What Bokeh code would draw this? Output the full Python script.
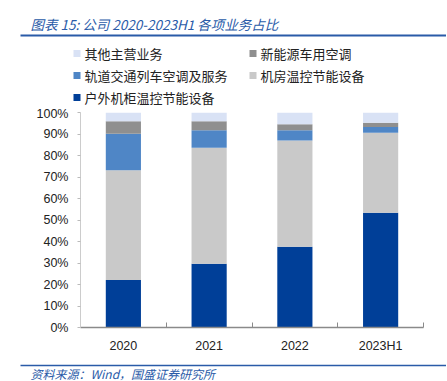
from bokeh.plotting import figure
from bokeh.layouts import column, row
from bokeh.models import Range1d, FixedTicker, NumeralTickFormatter, ColumnDataSource
from bokeh.core.properties import value
from bokeh.embed import file_html
from bokeh.resources import INLINE

categories = ["2020", "2021", "2022", "2023H1"]
series_names = ["户外机柜温控节能设备", "机房温控节能设备", "轨道交通列车空调及服务", "新能源车用空调", "其他主营业务"]
outdoor = [22.1, 29.6, 37.6, 53.4]
datacenter = [51.0, 54.0, 49.4, 37.2]
rail = [17.0, 8.2, 4.8, 2.6]
nev = [5.8, 4.1, 2.7, 2.0]
other = [4.1, 4.1, 5.5, 4.8]
colors = ["#003F98", "#C9C9C9", "#4F86C6", "#8F8F8F", "#D9E2F5"]
y_ticks = [i / 10 for i in range(11)]
title_text = "图表 15:  公司 2020-2023H1 各项业务占比"
source_text = "资料来源：Wind，国盛证券研究所"

W = 446
BLUE = "#2A5BA8"
CJK = "Noto Sans CJK SC"


def blank(height):
    f = figure(width=W, height=height, output_backend="svg", toolbar_location=None,
               x_range=Range1d(0, W), y_range=Range1d(height, 0),
               x_axis_type=None, y_axis_type=None, min_border=0)
    f.outline_line_color = None
    f.grid.grid_line_color = None
    return f


# ---------- header: title, rule, legend ----------
HH = 106
hdr = blank(HH)
hdr.text(x=[30], y=[23], text=[title_text], text_font=value(CJK), text_font_style="italic",
         text_font_size="13.5px", text_color=BLUE, text_baseline="middle")
hdr.segment(x0=[20], y0=[35], x1=[W], y1=[35], line_color=BLUE, line_width=2)

order = [4, 3, 2, 1, 0]
col_x = [73, 249]
row_y = [53, 75, 97]
lx, ly, lt, lc = [], [], [], []
for k, si in enumerate(order):
    r, c = divmod(k, 2)
    lx.append(col_x[c])
    ly.append(row_y[r])
    lt.append(series_names[si])
    lc.append(colors[si])
hdr.rect(x=[v + 3.5 for v in lx], y=ly, width=7, height=7, fill_color=lc, line_color=None)
hdr.text(x=[v + 11 for v in lx], y=ly, text=lt, text_font=value(CJK), text_font_size="13px",
         text_color="#222222", text_baseline="middle")

# ---------- main chart ----------
series = [outdoor, datacenter, rail, nev, other]
keys = ["s%d" % i for i in range(len(series))]
data = {"x": [i + 0.5 for i in range(len(categories))]}
for k, s in zip(keys, series):
    data[k] = [v / 100 for v in s]
src = ColumnDataSource(data)

MH = 250
p = figure(width=W, height=MH, output_backend="svg", toolbar_location=None,
           x_range=Range1d(0, len(categories)), y_range=Range1d(0, 1.0),
           min_border_left=80, min_border_right=W - 423, min_border_top=6, min_border_bottom=29)
p.outline_line_color = None
p.grid.grid_line_color = None

p.vbar_stack(keys, x="x", width=0.41, source=src, color=colors, line_color=None)

xa = p.xaxis[0]
xa.ticker = FixedTicker(ticks=data["x"], minor_ticks=list(range(1, len(categories) + 1)))
xa.major_label_overrides = {x: c for x, c in zip(data["x"], categories)}
xa.major_tick_in = 0
xa.major_tick_out = 0
xa.minor_tick_in = 5
xa.minor_tick_out = 0
xa.minor_tick_line_color = "#8a8a8a"
xa.axis_line_color = "#8a8a8a"
xa.axis_line_width = 1.5
xa.major_label_text_font = "Liberation Sans"
xa.major_label_text_font_size = "12.5px"
xa.major_label_text_color = "#222222"
xa.major_label_standoff = 11

ya = p.yaxis[0]
ya.ticker = FixedTicker(ticks=y_ticks)
ya.formatter = NumeralTickFormatter(format="0%")
ya.minor_tick_line_color = None
ya.major_tick_in = 0
ya.major_tick_out = 3
ya.major_tick_line_color = "#bbbbbb"
ya.axis_line_color = "#cccccc"
ya.major_label_text_font = "Liberation Sans"
ya.major_label_text_font_size = "12.5px"
ya.major_label_text_color = "#222222"
ya.major_label_standoff = 9

# ---------- footer: rule and source ----------
FH = 25
ftr = blank(FH)
ftr.segment(x0=[20], y0=[9], x1=[W], y1=[9], line_color=BLUE, line_width=1.5)
ftr.text(x=[30], y=[17], text=[source_text], text_font=value(CJK), text_font_style="italic",
         text_font_size="12px", text_color=BLUE, text_baseline="middle")

layout = column(row(hdr), p, row(ftr), spacing=0)
open("out.html", "w").write(file_html(layout, INLINE))
